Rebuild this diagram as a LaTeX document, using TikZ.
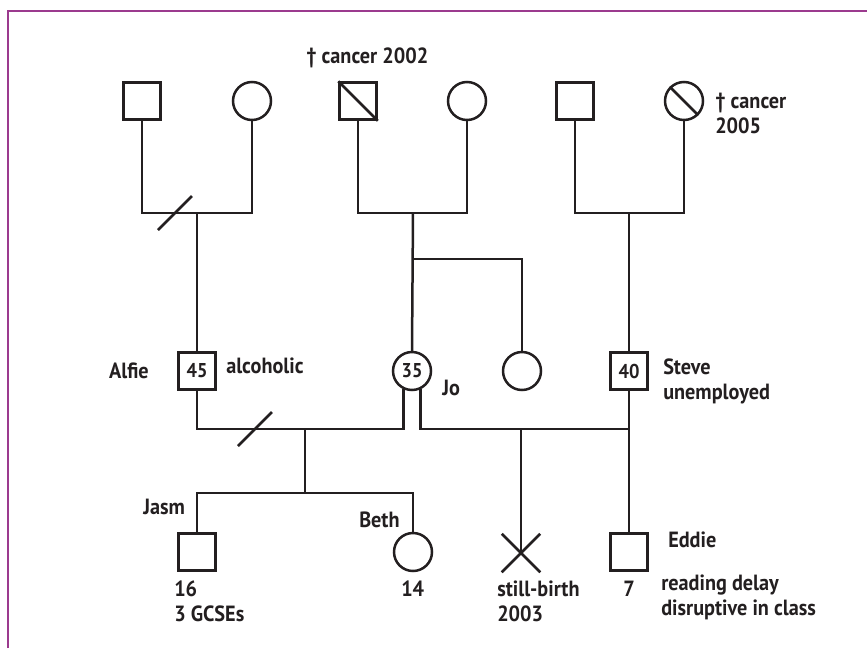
\documentclass[tikz,border=0pt]{standalone}
\usepackage{fontspec}
\setmainfont{PT Sans}[FakeStretch=0.92]
\usepackage{xcolor}
\usetikzlibrary{shapes.misc}
\definecolor{FrameMauve}{HTML}{9B3A8E}
\definecolor{Ink}{HTML}{231F20}

\begin{document}
\begin{tikzpicture}[x=1pt,y=-1pt,line width=2.5pt,color=Ink,
  male/.style={draw,rectangle,minimum size=37pt,inner sep=0pt,font=\bfseries\fontsize{20}{22}\selectfont},
  female/.style={draw,circle,minimum size=38pt,inner sep=0pt,font=\bfseries\fontsize{20}{22}\selectfont},
  stillborn/.style={draw,cross out,minimum size=36pt,inner sep=0pt},
  note/.style={inner sep=0pt,align=left,font=\bfseries\fontsize{22}{25}\selectfont}]
  \useasboundingbox (0,0) rectangle (867,648);
  \draw[FrameMauve,line width=2.6pt] (8,648) |- (867,11);

  \node[male] (gfA) at (142,101) {};
  \node[female] (gmA) at (252,101) {};
  \node[male] (gfB) at (358,101) {};
  \node[female] (gmB) at (467,101) {};
  \node[male] (gfC) at (575,101) {};
  \node[female] (gmC) at (684,101) {};
  \node[male] (alfie) at (197,371) {45};
  \node[female] (jo) at (412,371) {35};
  \node[female] (aunt) at (522,371) {};
  \node[male] (steve) at (629,371) {40};
  \node[male] (jasm) at (197,552) {};
  \node[female] (beth) at (413,552) {};
  \node[stillborn] (still) at (521,553) {};
  \node[male] (eddie) at (629,552) {};

  \coordinate (mA) at (197,213);
  \coordinate (mB) at (413,213);
  \coordinate (mC) at (629,213);
  \coordinate (sibB) at (413,259);
  \coordinate (mAJ) at (305,429);
  \coordinate (sibAJ) at (305,493);
  \coordinate (mJS) at (521,429);
  \coordinate (divA) at (175,213);
  \coordinate (divAJ) at (255,429);

  \draw (gfA.south) |- (mA) -| (gmA.south);
  \draw (mA) -- (alfie.north);
  \draw (gfB.south) |- (mB) -| (gmB.south);
  \draw (mB) -- (jo.north);
  \draw (sibB) -| (aunt.north);
  \draw (gfC.south) |- (mC) -| (gmC.south);
  \draw (mC) -- (steve.north);
  \draw (alfie.south) |- (mAJ) -| (jo.-115);
  \draw (mAJ) -- (sibAJ);
  \draw (jasm.north) |- (sibAJ) -| (beth.north);
  \draw (jo.-65) |- (mJS) -| (steve.south);
  \draw (mJS) -- (still.center);
  \draw (steve.south) -- (eddie.north);
  \draw (divA) +(-17,17) -- +(17,-17);
  \draw (divAJ) +(-17,17) -- +(17,-17);
  \draw (gfB.north west) -- (gfB.south east);
  \draw (gmC.135) -- (gmC.-45);

  \node[note,anchor=west] (dagB) at (305,58) {† cancer 2002};
  \node[note,anchor=north west] (dagC) at (714,92) {† cancer\\2005};
  \node[note,anchor=east] (alfieL) at (150,371) {Alfie};
  \node[note,anchor=west] (alcoL) at (225,366) {alcoholic};
  \node[note,anchor=west] (joL) at (441,388) {Jo};
  \node[note,anchor=north west] (steveL) at (662,358) {Steve\\unemployed};
  \node[note,anchor=west] (jasmL) at (142,507) {Jasm};
  \node[note,anchor=west] (bethL) at (358,520) {Beth};
  \node[note,anchor=north west] (jasmN) at (173,580) {16\\3 GCSEs};
  \node[note,anchor=north west] (bethN) at (400,580) {14};
  \node[note,anchor=north west] (stillN) at (496,580) {still-birth\\2003};
  \node[note,anchor=north west] (eddieN) at (622,580) {7};
  \node[note,anchor=west] (eddieL) at (667,540) {Eddie};
  \node[note,anchor=north west] (eddieM) at (660,574) {reading delay\\disruptive in class};
\end{tikzpicture}
\end{document}
